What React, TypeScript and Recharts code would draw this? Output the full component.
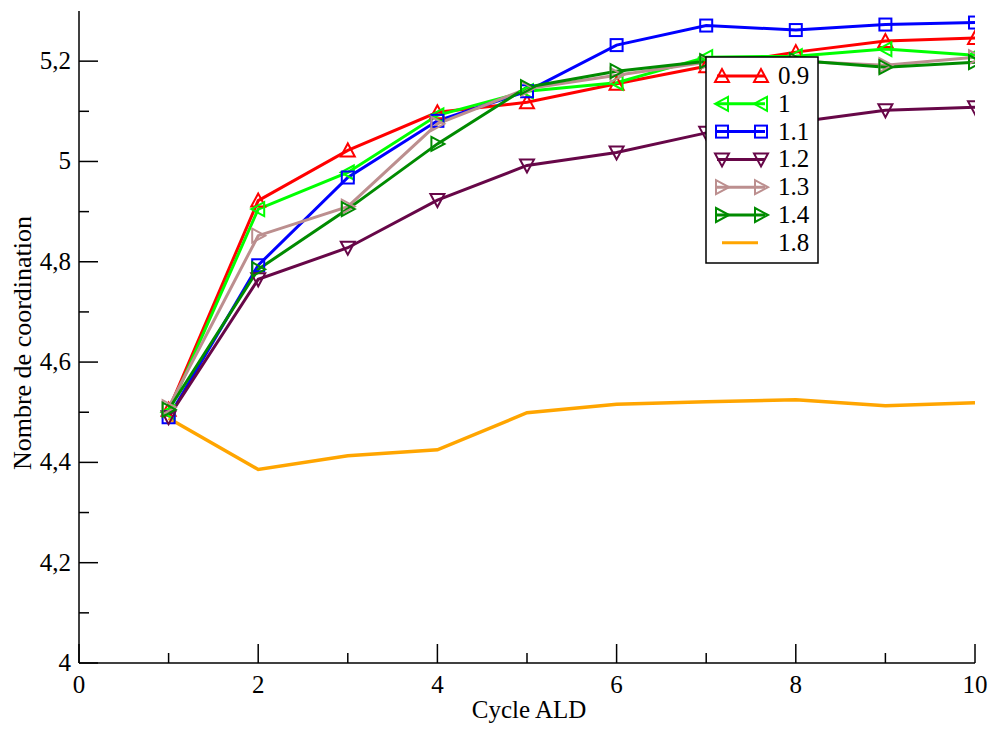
import { LineChart, Line, XAxis, YAxis, Legend } from "recharts";

// ALD cycles on the x axis
const cycles = [1, 2, 3, 4, 5, 6, 7, 8, 9, 10];

// coordination number, one array per series
const s09 = [4.505, 4.922, 5.022, 5.098, 5.118, 5.155, 5.19, 5.218, 5.24, 5.246];
const s10 = [4.5, 4.905, 4.978, 5.092, 5.14, 5.157, 5.208, 5.21, 5.224, 5.212];
const s11 = [4.49, 4.793, 4.968, 5.081, 5.14, 5.232, 5.271, 5.262, 5.273, 5.277];
const s12 = [4.49, 4.765, 4.828, 4.923, 4.992, 5.018, 5.057, 5.078, 5.102, 5.108];
const s13 = [4.51, 4.852, 4.91, 5.075, 5.145, 5.172, 5.198, 5.2, 5.192, 5.208];
const s14 = [4.505, 4.785, 4.905, 5.035, 5.148, 5.18, 5.2, 5.202, 5.188, 5.198];
const s18 = [4.488, 4.386, 4.413, 4.425, 4.499, 4.516, 4.521, 4.525, 4.513, 4.519];

const seriesNames = ["0.9", "1", "1.1", "1.2", "1.3", "1.4", "1.8"];
const seriesValues = [s09, s10, s11, s12, s13, s14, s18];
const seriesColors = ["#ff0000", "#00ff00", "#0000ff", "#670748", "#bc8f8f", "#008b00", "#ffa500"];
const seriesMarkers = ["up", "left", "square", "down", "right", "right", "none"];

const xTicks = [0, 1, 2, 3, 4, 5, 6, 7, 8, 9, 10];
const yTicks = [4, 4.1, 4.2, 4.3, 4.4, 4.5, 4.6, 4.7, 4.8, 4.9, 5, 5.1, 5.2];

const FONT = "Liberation Serif, DejaVu Serif, serif";

const chartData = cycles.map((c, i) => {
  const row: Record<string, number> = { cycle: c };
  seriesNames.forEach((n, k) => {
    row["s" + k] = seriesValues[k][i];
  });
  return row;
});

function Marker({ shape, cx, cy, color }: { shape: string; cx: number; cy: number; color: string }) {
  if (shape === "none") return null;
  if (shape === "square") {
    return <rect x={cx - 6} y={cy - 6} width={12} height={12} fill="none" stroke={color} strokeWidth={2} />;
  }
  let pts: number[][] = [];
  if (shape === "up") pts = [[cx, cy - 7], [cx - 7, cy + 6], [cx + 7, cy + 6]];
  if (shape === "down") pts = [[cx, cy + 7], [cx - 7, cy - 6], [cx + 7, cy - 6]];
  if (shape === "left") pts = [[cx - 7, cy], [cx + 6, cy - 7], [cx + 6, cy + 7]];
  if (shape === "right") pts = [[cx + 7, cy], [cx - 6, cy - 7], [cx - 6, cy + 7]];
  return (
    <polygon
      points={pts.map((p) => p.join(",")).join(" ")}
      fill="none"
      stroke={color}
      strokeWidth={2}
      strokeLinejoin="miter"
    />
  );
}

const isMajorX = (v: number) => v % 2 === 0;
const isMajorY = (v: number) => Math.round(v * 10) % 2 === 0;
const fmtY = (v: number) => String(Math.round(v * 10) / 10).replace(".", ",");

const BottomTick = (props: any) => {
  const { x, y, payload } = props;
  const major = isMajorX(payload.value);
  return (
    <g>
      <line x1={x} y1={y} x2={x} y2={y - (major ? 19 : 10)} stroke="#000" strokeWidth={1.5} />
      {major && (
        <text x={x} y={y + 30} textAnchor="middle" fontSize={25} fontFamily={FONT} fill="#000">
          {payload.value}
        </text>
      )}
    </g>
  );
};

const TopTick = (props: any) => {
  const { x, y, payload } = props;
  const major = isMajorX(payload.value);
  return <line x1={x} y1={y} x2={x} y2={y + (major ? 19 : 10)} stroke="#000" strokeWidth={1.5} />;
};

const LeftTick = (props: any) => {
  const { x, y, payload } = props;
  const major = isMajorY(payload.value);
  return (
    <g>
      <line x1={x} y1={y} x2={x + (major ? 19 : 10)} y2={y} stroke="#000" strokeWidth={1.5} />
      {major && (
        <text x={x - 8} y={y + 8} textAnchor="end" fontSize={25} fontFamily={FONT} fill="#000">
          {fmtY(payload.value)}
        </text>
      )}
    </g>
  );
};

const RightTick = (props: any) => {
  const { x, y, payload } = props;
  const major = isMajorY(payload.value);
  return <line x1={x} y1={y} x2={x - (major ? 19 : 10)} y2={y} stroke="#000" strokeWidth={1.5} />;
};

const renderLegend = () => (
  <svg width={114} height={208} style={{ display: "block" }}>
    <rect x={1} y={1} width={112} height={206} fill="#fff" stroke="#000" strokeWidth={1.5} />
    {seriesNames.map((n, i) => {
      const y = 20 + i * 27.8;
      const color = seriesColors[i];
      const noMarker = seriesMarkers[i] === "none";
      return (
        <g key={n}>
          <line
            x1={noMarker ? 17 : 12}
            x2={noMarker ? 53 : 60}
            y1={y}
            y2={y}
            stroke={color}
            strokeWidth={3}
          />
          <Marker shape={seriesMarkers[i]} cx={17} cy={y} color={color} />
          <Marker shape={seriesMarkers[i]} cx={56} cy={y} color={color} />
          <text x={73} y={y + 8} fontSize={25} fontFamily={FONT} fill="#000">
            {n}
          </text>
        </g>
      );
    })}
  </svg>
);

export default function App() {
  return (
    <div style={{ position: "absolute", left: 0, top: 0, width: 991, height: 729, background: "#fff" }}>
      <LineChart width={991} height={729} data={chartData} margin={{ top: 11, right: 16, bottom: 0, left: 0 }}>
        <XAxis
          dataKey="cycle"
          type="number"
          domain={[0, 10]}
          ticks={xTicks}
          interval={0}
          allowDataOverflow
          height={66}
          tickSize={0}
          tickMargin={0}
          tickLine={false}
          axisLine={{ stroke: "#000", strokeWidth: 1.5 }}
          tick={<BottomTick />}
          label={{
            value: "Cycle ALD",
            content: () => (
              <text x={529} y={718} textAnchor="middle" fontSize={25} fontFamily={FONT} fill="#000">
                Cycle ALD
              </text>
            ),
          }}
        />
        <XAxis
          xAxisId="top"
          orientation="top"
          type="number"
          domain={[0, 10]}
          ticks={xTicks}
          interval={0}
          allowDataOverflow
          height={0}
          tickSize={0}
          tickMargin={0}
          tickLine={false}
          axisLine={{ stroke: "#000", strokeWidth: 1.5 }}
          tick={<TopTick />}
        />
        <YAxis
          type="number"
          domain={[4, 5.3]}
          ticks={yTicks}
          interval={0}
          allowDataOverflow
          width={79}
          tickSize={0}
          tickMargin={0}
          tickLine={false}
          axisLine={{ stroke: "#000", strokeWidth: 1.5 }}
          tick={<LeftTick />}
          label={{
            value: "Nombre de coordination",
            content: () => (
              <text
                x={31}
                y={343}
                transform="rotate(-90, 31, 343)"
                textAnchor="middle"
                fontSize={26}
                fontFamily={FONT}
                fill="#000"
              >
                Nombre de coordination
              </text>
            ),
          }}
        />
        <YAxis
          yAxisId="right"
          orientation="right"
          type="number"
          domain={[4, 5.3]}
          ticks={yTicks}
          interval={0}
          allowDataOverflow
          width={0}
          tickSize={0}
          tickMargin={0}
          tickLine={false}
          axisLine={{ stroke: "#000", strokeWidth: 1.5 }}
          tick={<RightTick />}
        />
        {seriesNames.map((n, k) => (
          <Line
            key={n}
            name={n}
            dataKey={"s" + k}
            type="linear"
            stroke={seriesColors[k]}
            strokeWidth={k === 6 ? 3.5 : 3}
            isAnimationActive={false}
            dot={
              seriesMarkers[k] === "none"
                ? false
                : (p: any) => (
                    <Marker
                      key={n + "-" + p.index}
                      shape={seriesMarkers[k]}
                      cx={p.cx}
                      cy={p.cy}
                      color={seriesColors[k]}
                    />
                  )
            }
            activeDot={false}
          />
        ))}
        <Legend
          layout="vertical"
          align="center"
          verticalAlign="middle"
          content={renderLegend}
          wrapperStyle={{ position: "absolute", left: 705, top: 56, width: 114, height: 208 }}
        />
      </LineChart>
    </div>
  );
}
